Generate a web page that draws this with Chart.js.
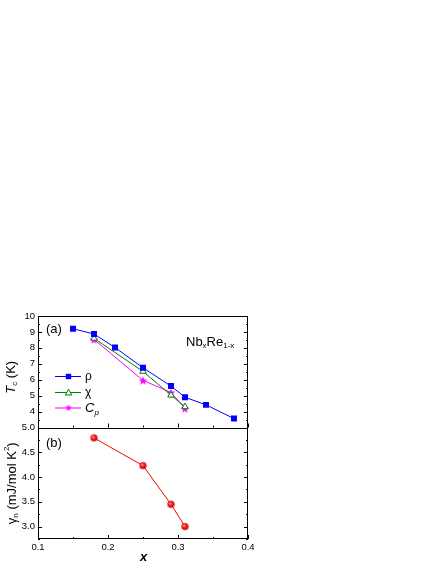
<!DOCTYPE html>
<html><head><meta charset="utf-8">
<script src="https://cdn.jsdelivr.net/npm/chart.js@4/dist/chart.umd.min.js"></script>
<style>html,body{margin:0;padding:0;background:#fff}#wrap{width:436px;height:564px}</style>
</head><body><div id="wrap"><canvas id="c" width="436" height="564"></canvas></div>
<script>
// ---- data ----
const xRho = [0.15, 0.18, 0.21, 0.25, 0.29, 0.31, 0.34, 0.38];
const tcRho = [9.2, 8.87, 8.02, 6.75, 5.6, 4.9, 4.42, 3.56];
const xChi = [0.18, 0.25, 0.29, 0.31];
const tcChi = [8.6, 6.52, 5.03, 4.3];
const xCp = [0.18, 0.25, 0.29, 0.31];
const tcCp = [8.53, 5.96, 5.2, 4.2];
const xGamma = [0.18, 0.25, 0.29, 0.31];
const gammaN = [4.79, 4.23, 3.45, 3.0];
const xTicks = [0.1, 0.2, 0.3, 0.4];
const tcTicks = [3, 4, 5, 6, 7, 8, 9, 10];
const gammaTicks = [3.0, 3.5, 4.0, 4.5, 5.0];

const FONT = '"Liberation Sans", Arial, sans-serif';
const pts = (xs, ys) => xs.map((x, i) => ({x: x, y: ys[i]}));

function starImage(color, R) {
  const c = document.createElement('canvas');
  const s = Math.ceil(R * 2 + 2); c.width = s; c.height = s;
  const g = c.getContext('2d');
  const cx = s / 2, cy = s / 2 + 0.5, r = R * 0.42;
  g.beginPath();
  for (let i = 0; i < 10; i++) {
    const a = -Math.PI / 2 + i * Math.PI / 5;
    const rr = i % 2 ? r : R;
    g.lineTo(cx + rr * Math.cos(a), cy + rr * Math.sin(a));
  }
  g.closePath(); g.fillStyle = color; g.fill();
  return c;
}
function ballImage(R) {
  const c = document.createElement('canvas');
  const s = Math.ceil(R * 2 + 2); c.width = s; c.height = s;
  const g = c.getContext('2d');
  const cx = s / 2, cy = s / 2;
  const grd = g.createRadialGradient(cx - R * 0.35, cy - R * 0.35, 0.3, cx, cy, R);
  grd.addColorStop(0, '#ffb0b0'); grd.addColorStop(0.45, '#ff2020'); grd.addColorStop(1, '#d00000');
  g.beginPath(); g.arc(cx, cy, R, 0, Math.PI * 2); g.fillStyle = grd; g.fill();
  g.lineWidth = 0.6; g.strokeStyle = '#c00000'; g.stroke();
  return c;
}
const starImg = starImage('#ff00ff', 4.6);
const starLegImg = starImage('#ff00ff', 3.8);
const ballImg = ballImage(3.3);

function drawRich(ctx, parts, x, y, align) {
  let w = 0;
  parts.forEach(p => { ctx.font = (p[2] || '') + ' ' + p[1] + 'px ' + FONT; p.w = ctx.measureText(p[0]).width; w += p.w; });
  let cx = align === 'center' ? x - w / 2 : x;
  ctx.textAlign = 'left'; ctx.textBaseline = 'middle';
  parts.forEach(p => { ctx.font = (p[2] || '') + ' ' + p[1] + 'px ' + FONT; ctx.fillText(p[0], cx, y + (p[3] || 0)); cx += p.w; });
}

const decor = {
  id: 'decor',
  afterDraw(chart) {
    const ctx = chart.ctx, a = chart.chartArea;
    const xs = chart.scales.x, yT = chart.scales.yT, yB = chart.scales.yB;
    ctx.save();
    ctx.strokeStyle = '#000'; ctx.lineWidth = 1; ctx.fillStyle = '#000';
    ctx.strokeRect(a.left + 0.5, a.top + 0.5, a.right - a.left - 1, a.bottom - a.top - 1);
    const mid = Math.round(yT.bottom) + 0.5;
    ctx.beginPath(); ctx.moveTo(a.left, mid); ctx.lineTo(a.right, mid); ctx.stroke();
    ctx.beginPath();
    function yTicks(sc, lo, hi, step, minorStep) {
      for (let v = lo; v <= hi + 1e-9; v += minorStep) {
        const major = Math.abs(v / step - Math.round(v / step)) < 1e-6;
        const L = major ? 4 : 2;
        const p = Math.round(sc.getPixelForValue(v)) + 0.5;
        ctx.moveTo(a.left, p); ctx.lineTo(a.left + L, p);
        ctx.moveTo(a.right, p); ctx.lineTo(a.right - L, p);
      }
    }
    yTicks(yT, 3, 10, 1, 0.5);
    yTicks(yB, 2.75, 5, 0.5, 0.25);
    for (let v = 0.1; v <= 0.4 + 1e-9; v += 0.05) {
      const major = Math.abs(v * 10 - Math.round(v * 10)) < 1e-6;
      const L = major ? 4 : 2;
      const p = Math.round(xs.getPixelForValue(v)) + 0.5;
      ctx.moveTo(p, a.bottom); ctx.lineTo(p, a.bottom - L);
      ctx.moveTo(p, yT.bottom); ctx.lineTo(p, yT.bottom - L);
    }
    ctx.stroke();
    drawRich(ctx, [['(a)', 13]], a.left + 8, yT.top + 13);
    drawRich(ctx, [['(b)', 13]], a.left + 8, yB.top + 16);
    drawRich(ctx, [['Nb', 13], ['x', 8, '', 4], ['Re', 13], ['1-x', 8, '', 4]], 186, 342);
    const leg = [
      {y: 376, color: '#0000ff', kind: 'sq', label: [['ρ', 12]]},
      {y: 392, color: '#008000', kind: 'tri', label: [['χ', 12]]},
      {y: 407.5, color: '#ff00ff', kind: 'star', label: [['C', 13, 'italic'], ['p', 8, 'italic', 4]]}
    ];
    leg.forEach(e => {
      ctx.strokeStyle = e.color; ctx.lineWidth = 1;
      ctx.beginPath(); ctx.moveTo(55, e.y + 0.5); ctx.lineTo(81, e.y + 0.5); ctx.stroke();
      const cx = 68.5, cy = e.y + 0.5;
      if (e.kind === 'sq') { ctx.fillStyle = e.color; ctx.fillRect(cx - 2.7, cy - 2.7, 5.4, 5.4); }
      else if (e.kind === 'tri') {
        ctx.beginPath(); ctx.moveTo(cx, cy - 3.3); ctx.lineTo(cx + 3.2, cy + 2.5); ctx.lineTo(cx - 3.2, cy + 2.5); ctx.closePath();
        ctx.fillStyle = '#fff'; ctx.fill(); ctx.stroke();
      } else { ctx.drawImage(starLegImg, cx - starLegImg.width / 2, cy - starLegImg.height / 2 - 0.5); }
      ctx.fillStyle = '#000';
      drawRich(ctx, e.label, 85, e.y + 1);
    });
    ctx.fillStyle = '#000';
    ctx.save(); ctx.translate(11, (yT.top + yT.bottom) / 2 + 5.5); ctx.rotate(-Math.PI / 2);
    drawRich(ctx, [['T', 13, 'italic'], ['c', 8, '', 4], [' (K)', 13]], 0, 0, 'center');
    ctx.restore();
    ctx.save(); ctx.translate(12, (yB.top + yB.bottom) / 2); ctx.rotate(-Math.PI / 2);
    drawRich(ctx, [['γ', 13], ['n', 8, '', 4], [' (mJ/mol K', 13], ['2', 8, '', -5], [')', 13]], 0, 0, 'center');
    ctx.restore();
    drawRich(ctx, [['x', 13, 'italic bold']], (a.left + a.right) / 2 - 3, 557);
    ctx.restore();
  }
};

const tickFont = {family: FONT, size: 9.5};
const tk = (cb) => ({font: tickFont, color: '#000', padding: 3, autoSkip: false, maxRotation: 0, callback: cb});
new Chart(document.getElementById('c'), {
  type: 'line',
  data: {
    datasets: [
      {label: 'ρ', data: pts(xRho, tcRho), yAxisID: 'yT', borderColor: '#0000ff', backgroundColor: '#0000ff',
       borderWidth: 1, pointStyle: 'rect', pointRadius: 4.2, pointBorderWidth: 0},
      {label: 'χ', data: pts(xChi, tcChi), yAxisID: 'yT', borderColor: '#008000', backgroundColor: '#ffffff',
       borderWidth: 1, pointStyle: 'triangle', pointRadius: 3.8, pointBorderWidth: 1},
      {label: 'Cp', data: pts(xCp, tcCp), yAxisID: 'yT', borderColor: '#ff00ff', backgroundColor: '#ff00ff',
       borderWidth: 1, pointStyle: starImg},
      {label: 'γn', data: pts(xGamma, gammaN), yAxisID: 'yB', borderColor: '#ff0000', backgroundColor: '#ff0000',
       borderWidth: 1, pointStyle: ballImg}
    ]
  },
  options: {
    responsive: false, animation: false, devicePixelRatio: 1,
    layout: {padding: {top: 316, left: 0, right: 188, bottom: 0}},
    plugins: {legend: {display: false}, tooltip: {enabled: false}},
    elements: {line: {tension: 0}},
    scales: {
      x: {type: 'linear', min: 0.1, max: 0.4,
          afterBuildTicks: s => { s.ticks = xTicks.map(v => ({value: v})); },
          afterFit: s => { s.height = 25; },
          grid: {display: false, drawTicks: false}, border: {display: false},
          ticks: tk(v => v.toFixed(1))},
      yB: {type: 'linear', position: 'left', stack: 'v', stackWeight: 1, min: 2.75, max: 5,
          afterBuildTicks: s => { s.ticks = gammaTicks.map(v => ({value: v})); },
          afterFit: s => { s.width = 38; },
          grid: {display: false, drawTicks: false}, border: {display: false},
          ticks: tk(v => v.toFixed(1))},
      yT: {type: 'linear', position: 'left', stack: 'v', stackWeight: 1, min: 3, max: 10,
          afterBuildTicks: s => { s.ticks = tcTicks.map(v => ({value: v})); },
          afterFit: s => { s.width = 38; },
          grid: {display: false, drawTicks: false}, border: {display: false},
          ticks: tk(v => v === 3 ? '' : String(v))}
    }
  },
  plugins: [decor]
});
</script>
</body></html>
